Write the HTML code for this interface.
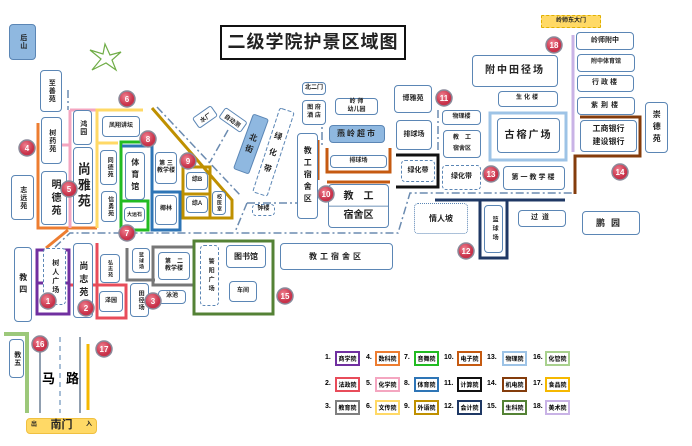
<!DOCTYPE html>
<html><head><meta charset="utf-8"><style>
body{margin:0;width:692px;height:446px;background:#fff;position:relative;overflow:hidden;font-family:"Liberation Sans","Noto Sans CJK SC",sans-serif}
.b{position:absolute;border:1.5px solid #5b86b5;border-radius:4px;background:#fff;display:flex;align-items:center;justify-content:center;font-size:8px;font-weight:bold;color:#222;box-sizing:border-box;text-align:center;line-height:1.2;z-index:2;white-space:nowrap}
.v{writing-mode:vertical-rl;text-orientation:upright;letter-spacing:1px}
.d{border-style:dashed}
.bl{background:#8fb8e0}
svg{position:absolute;left:0;top:0}
.lg{position:absolute;width:25px;height:15px;border:2.5px solid;box-sizing:border-box;font-size:6px;font-weight:bold;display:flex;align-items:center;justify-content:center;background:#fff;white-space:nowrap}
.ln{position:absolute;font-size:7px;font-weight:bold}
</style></head><body>
<svg width="692" height="446" style="z-index:1">
<g fill="none" stroke-width="3">
<polyline points="38,123 38,228 97,228" stroke="#ed7d31"/>
<line x1="46" y1="248" x2="68" y2="230" stroke="#ed7d31"/>
<polyline points="70,110 70,228" stroke="#f4a6c0"/>
<line x1="42" y1="145" x2="70" y2="145" stroke="#f4a6c0"/>
<line x1="70" y1="110" x2="97" y2="110" stroke="#f4a6c0"/>
<polyline points="143,110 97,110 97,228" stroke="#ffd966"/>
<line x1="97" y1="143" x2="118" y2="143" stroke="#ffd966"/>
<polyline points="121,230 121,142 148,142" stroke="#22bb22"/>
<rect x="121" y="201" width="27" height="29" stroke="#22bb22"/>
<polyline points="122,146 152,146 152,230" stroke="#2e75b6"/>
<rect x="152" y="192" width="28" height="38" stroke="#2e75b6"/>
<polyline points="152,108 232,200 232,218 183,218 183,167 210,167 210,218" stroke="#bf9000"/>
<line x1="183" y1="194" x2="210" y2="194" stroke="#bf9000"/>
<polyline points="318,140 318,180" stroke="#c55a11"/>
<polyline points="327,148 327,172 390,172 390,148" stroke="#c55a11"/>
<line x1="327" y1="182" x2="390" y2="182" stroke="#c55a11"/>
<polyline points="396,155 438,155 438,187 396,187" stroke="#111"/>
<line x1="435" y1="200" x2="565" y2="200" stroke="#1f3864"/>
<rect x="480" y="200" width="27" height="58" stroke="#1f3864"/>
<line x1="573" y1="35" x2="573" y2="152" stroke="#c9b3e6"/>
<polyline points="580,117 640,117 640,156 575,156 575,194" stroke="#843c0c"/>
<polyline points="4,334 27,334 27,413" stroke="#9cc87a" stroke-width="4"/>
<line x1="88" y1="344" x2="88" y2="410" stroke="#f5b800"/>
<polyline points="127,248 127,280 155,280" stroke="#777"/>
<rect x="153" y="247" width="41" height="38" stroke="#777"/>
<line x1="97" y1="243" x2="97" y2="318" stroke="#e84c5a"/>
<line x1="69" y1="285" x2="126" y2="285" stroke="#e84c5a"/>
<rect x="97" y="285" width="29" height="33" stroke="#e84c5a"/>
<rect x="37" y="250" width="32" height="64" stroke="#7030a0"/>
<line x1="37" y1="283" x2="69" y2="283" stroke="#7030a0"/>
<rect x="194" y="241" width="79" height="73" stroke="#548235"/>
<rect x="490" y="113" width="76" height="47" stroke="#9dc3e6"/>
</g>
<g fill="none" stroke="#6b8bb0" stroke-width="1.5" stroke-dasharray="8 3 2 3">
<line x1="157" y1="107" x2="240" y2="195"/>
<line x1="68" y1="90" x2="68" y2="110"/>
<polyline points="55,247 70,233 398,233 410,193 574,193"/>
<line x1="247" y1="203" x2="235" y2="232"/>
<line x1="247" y1="203" x2="300" y2="203"/>
<line x1="322" y1="100" x2="322" y2="148"/>
<line x1="438" y1="110" x2="438" y2="150"/>
<line x1="228" y1="130" x2="210" y2="162"/>
</g>
<line x1="40" y1="345" x2="40" y2="413" stroke="#6b7f95" stroke-width="1.5"/>
<line x1="60" y1="337" x2="60" y2="413" stroke="#8aa8c8" stroke-width="1.5" stroke-dasharray="5 4"/>
<line x1="80" y1="337" x2="80" y2="413" stroke="#6b7f95" stroke-width="1.5"/>
<path d="M105,44 L110,55 L121,52 L112,60 L116,70 L106,63 L92,70 L101,59 L90,50 L103,54 Z" fill="none" stroke="#70ad47" stroke-width="1.2"/>
<rect x="243" y="115" width="16" height="58" rx="2" fill="#8fb8e0" stroke="#5b86b5" transform="rotate(20 251 144)"/>
<text x="251" y="140" font-size="8" font-weight="bold" text-anchor="middle" fill="#222" transform="rotate(20 251 144)">北</text>
<text x="251" y="152" font-size="8" font-weight="bold" text-anchor="middle" fill="#222" transform="rotate(20 251 144)">街</text>
<rect x="266" y="108" width="15" height="88" rx="2" fill="#fff" stroke="#5b86b5" stroke-dasharray="4 2" transform="rotate(18 273 152)"/>
<text x="273" y="138" font-size="8" font-weight="bold" text-anchor="middle" fill="#222" transform="rotate(18 273 152)">绿</text>
<text x="273" y="155" font-size="8" font-weight="bold" text-anchor="middle" fill="#222" transform="rotate(18 273 152)">化</text>
<text x="273" y="172" font-size="8" font-weight="bold" text-anchor="middle" fill="#222" transform="rotate(18 273 152)">带</text>
<rect x="194" y="111" width="22" height="12" rx="2" fill="#fff" stroke="#5b86b5" transform="rotate(-35 205 117)"/>
<text x="205" y="120" font-size="6" font-weight="bold" text-anchor="middle" fill="#222" transform="rotate(-35 205 117)">水厂</text>
<rect x="220" y="114" width="26" height="12" rx="2" fill="#fff" stroke="#5b86b5" transform="rotate(35 233 120)"/>
<text x="233" y="123" font-size="6" font-weight="bold" text-anchor="middle" fill="#222" transform="rotate(35 233 120)">自动测</text>
</svg>

<div class="b bl v" style="left:9px;top:24px;width:27px;height:36px;font-size:7px">后山</div>
<div class="b" style="left:220px;top:25px;width:186px;height:35px;border:2px solid #111;border-radius:0;font-size:18px;letter-spacing:1px">二级学院护景区域图</div>
<div class="b v" style="left:40px;top:70px;width:22px;height:42px;font-size:7px">至善苑</div>
<div class="b v" style="left:41px;top:117px;width:21px;height:47px;font-size:7px">树药苑</div>
<div class="b v" style="left:11px;top:175px;width:23px;height:45px;font-size:7px">志远苑</div>
<div class="b v" style="left:41px;top:171px;width:26px;height:54px;font-size:10px;letter-spacing:3px">明德苑</div>
<div class="b v" style="left:73px;top:110px;width:19px;height:35px;font-size:7px">鸿园</div>
<div class="b v" style="left:73px;top:147px;width:20px;height:77px;font-size:13px;letter-spacing:3px">尚雅苑</div>
<div class="b" style="left:102px;top:116px;width:38px;height:21px;font-size:6px">凤翔讲坛</div>
<div class="b v" style="left:100px;top:150px;width:17px;height:35px;font-size:6px">同德苑</div>
<div class="b v" style="left:101px;top:191px;width:16px;height:31px;font-size:6px">信勇苑</div>
<div class="b v" style="left:125px;top:152px;width:20px;height:48px;font-size:8px;letter-spacing:4px">体育馆</div>
<div class="b" style="left:124px;top:207px;width:21px;height:15px;font-size:5px">大运石</div>
<div class="b" style="left:155px;top:152px;width:22px;height:32px;font-size:6px">第 三<br>教学楼</div>
<div class="b" style="left:155px;top:195px;width:22px;height:30px;font-size:6px">椰林</div>
<div class="b" style="left:186px;top:172px;width:22px;height:18px;font-size:6px">综B</div>
<div class="b" style="left:186px;top:196px;width:22px;height:17px;font-size:6px">综A</div>
<div class="b v" style="left:212px;top:191px;width:14px;height:24px;font-size:5px">校医室</div>
<div class="b d" style="left:252px;top:204px;width:23px;height:12px;font-size:6px">钟楼</div>
<div class="b" style="left:302px;top:82px;width:24px;height:13px;font-size:6px">北二门</div>
<div class="b" style="left:302px;top:100px;width:24px;height:25px;font-size:6px">图 府<br>酒 店</div>
<div class="b v" style="left:297px;top:133px;width:21px;height:86px;font-size:8px;letter-spacing:4px">教工宿舍区</div>
<div class="b" style="left:335px;top:98px;width:43px;height:17px;font-size:6px">岭 师<br>幼儿园</div>
<div class="b bl" style="left:329px;top:125px;width:56px;height:18px;font-size:8px;letter-spacing:2px">燕岭超市</div>
<div class="b" style="left:330px;top:155px;width:57px;height:13px;font-size:6px">排球场</div>
<div class="b" style="left:328px;top:184px;width:61px;height:44px;font-size:10px;line-height:1.9;background:linear-gradient(#fff 49%,#9fb7d0 49%,#9fb7d0 52%,#fff 52%)">教　工<br>宿舍区</div>
<div class="b" style="left:394px;top:85px;width:38px;height:28px;font-size:7px">博雅苑</div>
<div class="b" style="left:396px;top:120px;width:36px;height:30px;font-size:7px">排球场</div>
<div class="b d" style="left:401px;top:160px;width:34px;height:22px;font-size:7px">绿化带</div>
<div class="b" style="left:442px;top:110px;width:39px;height:15px;font-size:6px">物理楼</div>
<div class="b" style="left:443px;top:130px;width:38px;height:28px;font-size:6px;line-height:1.8">教　工<br>宿舍区</div>
<div class="b d" style="left:442px;top:165px;width:39px;height:25px;font-size:7px">绿化带</div>
<div class="b" style="left:503px;top:166px;width:62px;height:24px;font-size:7px;letter-spacing:2px">第一教学楼</div>
<div class="b" style="left:472px;top:55px;width:86px;height:32px;font-size:10px;letter-spacing:2px">附中田径场</div>
<div class="b" style="left:498px;top:91px;width:60px;height:16px;font-size:6px;letter-spacing:2px">生化楼</div>
<div class="b" style="left:497px;top:118px;width:63px;height:35px;font-size:10px;letter-spacing:2px">古榕广场</div>
<div class="b" style="left:541px;top:15px;width:60px;height:13px;font-size:6px;background:#ffd966;border:1px dashed #e0b000;border-radius:1px">岭师东大门</div>
<div class="b" style="left:576px;top:32px;width:58px;height:18px;font-size:7px">岭师附中</div>
<div class="b" style="left:577px;top:54px;width:58px;height:18px;font-size:6px">附中体育馆</div>
<div class="b" style="left:577px;top:75px;width:57px;height:17px;font-size:7px;letter-spacing:2px">行政楼</div>
<div class="b" style="left:577px;top:97px;width:58px;height:18px;font-size:7px;letter-spacing:3px">紫荆楼</div>
<div class="b" style="left:580px;top:120px;width:57px;height:32px;font-size:8px;line-height:1.6">工商银行<br>建设银行</div>
<div class="b v" style="left:645px;top:102px;width:23px;height:51px;font-size:8px;letter-spacing:4px">崇德苑</div>
<div class="b d" style="left:414px;top:203px;width:54px;height:31px;font-size:8px;border-style:dotted">情人坡</div>
<div class="b v" style="left:484px;top:205px;width:19px;height:48px;font-size:6px;letter-spacing:3px">篮球场</div>
<div class="b" style="left:518px;top:210px;width:48px;height:17px;font-size:7px;letter-spacing:4px">过道</div>
<div class="b" style="left:582px;top:211px;width:58px;height:24px;font-size:9px;letter-spacing:6px">鹏园</div>

<div class="b v" style="left:14px;top:247px;width:18px;height:75px;font-size:8px;letter-spacing:4px">教四</div>
<div class="b d v" style="left:43px;top:248px;width:23px;height:57px;font-size:7px;letter-spacing:2px">树人广场</div>
<div class="b v" style="left:73px;top:243px;width:20px;height:75px;font-size:9px;letter-spacing:4px">尚志苑</div>
<div class="b v" style="left:100px;top:254px;width:20px;height:29px;font-size:5px">弘志苑</div>
<div class="b" style="left:99px;top:291px;width:24px;height:21px;font-size:6px">泽园</div>
<div class="b v" style="left:132px;top:248px;width:18px;height:25px;font-size:5px">篮球场</div>
<div class="b" style="left:158px;top:252px;width:32px;height:28px;font-size:6px">第　二<br>教学楼</div>
<div class="b v" style="left:130px;top:283px;width:19px;height:34px;font-size:6px">田径场</div>
<div class="b" style="left:158px;top:290px;width:28px;height:14px;font-size:6px">泳池</div>
<div class="b d v" style="left:200px;top:245px;width:19px;height:61px;font-size:6px;letter-spacing:3px">警阳广场</div>
<div class="b" style="left:226px;top:245px;width:40px;height:23px;font-size:8px">图书馆</div>
<div class="b" style="left:229px;top:281px;width:28px;height:21px;font-size:6px">车间</div>
<div class="b" style="left:280px;top:243px;width:113px;height:27px;font-size:8px;letter-spacing:3px">教工宿舍区</div>
<div class="b v" style="left:9px;top:339px;width:15px;height:39px;font-size:7px">教五</div>
<div style="position:absolute;left:42px;top:368px;font-size:13px;font-weight:bold;z-index:3">马</div>
<div style="position:absolute;left:66px;top:368px;font-size:13px;font-weight:bold;z-index:3">路</div>
<div class="b" style="left:26px;top:418px;width:71px;height:16px;background:#ffd966;border:1px solid #f0c040;justify-content:space-between;padding:0 4px;font-size:11px"><span style="font-size:6px">出</span>南门<span style="font-size:6px">入</span></div>

<svg width="692" height="446" style="z-index:4">
<defs><radialGradient id="g" cx="40%" cy="35%"><stop offset="0" stop-color="#f08090"/><stop offset="1" stop-color="#c8324a"/></radialGradient></defs>
<g stroke="#8a8a9a" stroke-width="1.5" fill="url(#g)">
<circle cx="48" cy="301" r="8"/><circle cx="86" cy="308" r="8"/><circle cx="153" cy="301" r="8"/>
<circle cx="27" cy="148" r="8"/><circle cx="69" cy="189" r="8"/><circle cx="127" cy="99" r="8"/>
<circle cx="127" cy="233" r="8"/><circle cx="148" cy="139" r="8"/><circle cx="188" cy="161" r="8"/>
<circle cx="326" cy="194" r="8"/><circle cx="444" cy="98" r="8"/><circle cx="466" cy="251" r="8"/>
<circle cx="491" cy="174" r="8"/><circle cx="620" cy="172" r="8"/><circle cx="285" cy="296" r="8"/>
<circle cx="40" cy="344" r="8"/><circle cx="104" cy="349" r="8"/><circle cx="554" cy="45" r="8"/>
</g>
<g fill="#fff" font-size="8" font-weight="bold" text-anchor="middle" font-family="Liberation Sans,sans-serif">
<text x="48" y="304">1</text><text x="86" y="311">2</text><text x="153" y="304">3</text>
<text x="27" y="151">4</text><text x="69" y="192">5</text><text x="127" y="102">6</text>
<text x="127" y="236">7</text><text x="148" y="142">8</text><text x="188" y="164">9</text>
<text x="326" y="197">10</text><text x="444" y="101">11</text><text x="466" y="254">12</text>
<text x="491" y="177">13</text><text x="620" y="175">14</text><text x="285" y="299">15</text>
<text x="40" y="347">16</text><text x="104" y="352">17</text><text x="554" y="48">18</text>
</g>
</svg>

<div class="ln" style="left:325px;top:354px">1.</div><div class="lg" style="left:335px;top:351px;border-color:#7030a0">商学院</div>
<div class="ln" style="left:325px;top:380px">2.</div><div class="lg" style="left:335px;top:377px;border-color:#e84c5a">法政院</div>
<div class="ln" style="left:325px;top:403px">3.</div><div class="lg" style="left:335px;top:400px;border-color:#7f7f7f">教育院</div>
<div class="ln" style="left:366px;top:354px">4.</div><div class="lg" style="left:375px;top:351px;border-color:#ed7d31">数科院</div>
<div class="ln" style="left:366px;top:380px">5.</div><div class="lg" style="left:375px;top:377px;border-color:#f4a6c0">化学院</div>
<div class="ln" style="left:366px;top:403px">6.</div><div class="lg" style="left:375px;top:400px;border-color:#ffd966">文传院</div>
<div class="ln" style="left:404px;top:354px">7.</div><div class="lg" style="left:414px;top:351px;border-color:#22bb22">音舞院</div>
<div class="ln" style="left:404px;top:380px">8.</div><div class="lg" style="left:414px;top:377px;border-color:#2e75b6">体育院</div>
<div class="ln" style="left:404px;top:403px">9.</div><div class="lg" style="left:414px;top:400px;border-color:#bf9000">外语院</div>
<div class="ln" style="left:444px;top:354px">10.</div><div class="lg" style="left:457px;top:351px;border-color:#c55a11">电子院</div>
<div class="ln" style="left:444px;top:380px">11.</div><div class="lg" style="left:457px;top:377px;border-color:#111">计算院</div>
<div class="ln" style="left:444px;top:403px">12.</div><div class="lg" style="left:457px;top:400px;border-color:#1f3864">会计院</div>
<div class="ln" style="left:487px;top:354px">13.</div><div class="lg" style="left:502px;top:351px;border-color:#9dc3e6">物理院</div>
<div class="ln" style="left:487px;top:380px">14.</div><div class="lg" style="left:502px;top:377px;border-color:#843c0c">机电院</div>
<div class="ln" style="left:487px;top:403px">15.</div><div class="lg" style="left:502px;top:400px;border-color:#548235">生科院</div>
<div class="ln" style="left:533px;top:354px">16.</div><div class="lg" style="left:545px;top:351px;border-color:#a9d18e">化管院</div>
<div class="ln" style="left:533px;top:380px">17.</div><div class="lg" style="left:545px;top:377px;border-color:#f5b800">食品院</div>
<div class="ln" style="left:533px;top:403px">18.</div><div class="lg" style="left:545px;top:400px;border-color:#c9b3e6">美术院</div>
</body></html>
